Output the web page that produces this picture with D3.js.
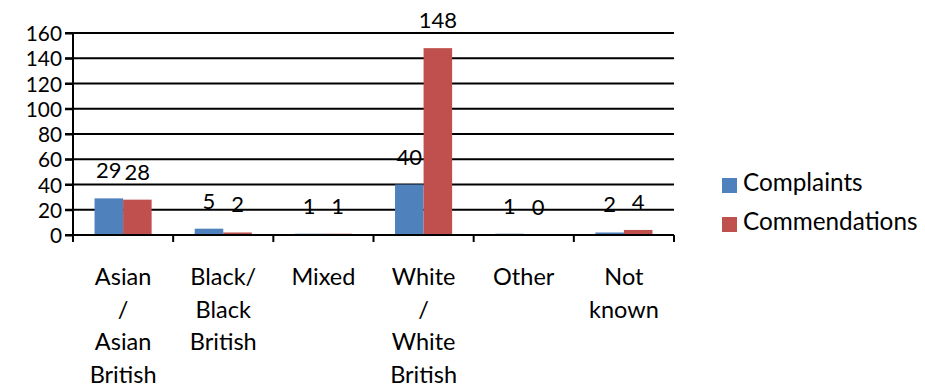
<!DOCTYPE html>
<html>
<head>
<meta charset="utf-8">
<script src="https://cdn.jsdelivr.net/npm/d3@7"></script>
<style>
  html, body { margin: 0; padding: 0; background: #fff; }
  svg { display: block; }
  text { font-family: Lato, "Open Sans", sans-serif; fill: #000; }
</style>
</head>
<body>
<svg id="chart" width="925" height="389"></svg>
<script>
// Ethnicity breakdown of complaints and commendations
const categories = [
  ["Asian", "/", "Asian", "British"],
  ["Black/", "Black", "British"],
  ["Mixed"],
  ["White", "/", "White", "British"],
  ["Other"],
  ["Not", "known"]
];
const seriesNames = ["Complaints", "Commendations"];
const complaints = [29, 5, 1, 40, 1, 2];
const commendations = [28, 2, 1, 148, 0, 4];
const yTicks = [0, 20, 40, 60, 80, 100, 120, 140, 160];
const colors = ["#4F81BD", "#C0504D"];

const svg = d3.select("#chart");
const m = { left: 73, right: 674, top: 33, bottom: 235 };
const fsTick = 20.8; // y tick labels
const fs = 22;       // data labels
const fsCat = 23.5;  // category labels
const fsLeg = 24.3;  // legend

const x = d3.scaleBand().domain(d3.range(categories.length)).range([m.left, m.right]).paddingInner(0).paddingOuter(0);
const bw = x.bandwidth() * 0.285;
const xs = d3.scaleBand().domain([0, 1]).range([0, 2 * bw]);
const y = d3.scaleLinear().domain([0, 160]).range([m.bottom, m.top]);

// horizontal gridlines
svg.append("g")
  .selectAll("line").data(yTicks.slice(1)).join("line")
  .attr("x1", m.left - 8).attr("x2", m.right)
  .attr("y1", d => y(d)).attr("y2", d => y(d))
  .attr("stroke", "#000").attr("stroke-width", 2);

// y axis
const yAxis = svg.append("g").attr("transform", `translate(${m.left},0)`)
  .call(d3.axisLeft(y).tickValues(yTicks).tickSize(8).tickPadding(3));
yAxis.select(".domain").attr("stroke", "#000").attr("stroke-width", 2)
  .attr("d", `M0,${m.top}V${m.bottom + 7}`);
yAxis.selectAll(".tick line").attr("stroke", "#000").attr("stroke-width", 2);
yAxis.selectAll(".tick text").style("font-size", fsTick + "px")
  .style("font-family", "Lato, sans-serif").attr("dy", "0.36em");

// bars with value labels
const series = [complaints, commendations];
series.forEach((vals, si) => {
  const g = svg.append("g");
  g.selectAll("rect").data(vals).join("rect")
    .attr("x", (d, i) => x(i) + x.bandwidth() / 2 - bw + xs(si))
    .attr("y", d => y(d))
    .attr("width", bw)
    .attr("height", d => y(0) - y(d))
    .attr("fill", colors[si]);
  g.selectAll("text").data(vals).join("text")
    .attr("x", (d, i) => x(i) + x.bandwidth() / 2 - bw + xs(si) + bw / 2)
    .attr("y", d => y(d) - 20)
    .attr("text-anchor", "middle")
    .style("font-size", fs + "px")
    .text(d => d);
});

// x axis baseline with category ticks
const xAxis = svg.append("g");
xAxis.append("line")
  .attr("x1", m.left - 8).attr("x2", m.right)
  .attr("y1", y(0)).attr("y2", y(0))
  .attr("stroke", "#000").attr("stroke-width", 2);
xAxis.selectAll("line.tk").data(d3.range(categories.length + 1)).join("line")
  .attr("class", "tk")
  .attr("x1", i => m.left + i * x.bandwidth()).attr("x2", i => m.left + i * x.bandwidth())
  .attr("y1", y(0)).attr("y2", y(0) + 7)
  .attr("stroke", "#000").attr("stroke-width", 2);

// category labels (wrapped)
const lab = svg.append("g").selectAll("text").data(categories).join("text")
  .attr("text-anchor", "middle")
  .style("font-size", fsCat + "px");
lab.each(function (lines, i) {
  d3.select(this).selectAll("tspan").data(lines).join("tspan")
    .attr("x", x(i) + x.bandwidth() / 2)
    .attr("y", (d, j) => 285 + j * 32.6)
    .text(d => d);
});

// legend
const leg = svg.append("g").selectAll("g").data(seriesNames).join("g")
  .attr("transform", (d, i) => `translate(722,${178 + i * 39})`);
leg.append("rect").attr("width", 15).attr("height", 15).attr("fill", (d, i) => colors[i]);
leg.append("text").attr("x", 21).attr("y", 13).style("font-size", fsLeg + "px").text(d => d);
</script>
</body>
</html>
